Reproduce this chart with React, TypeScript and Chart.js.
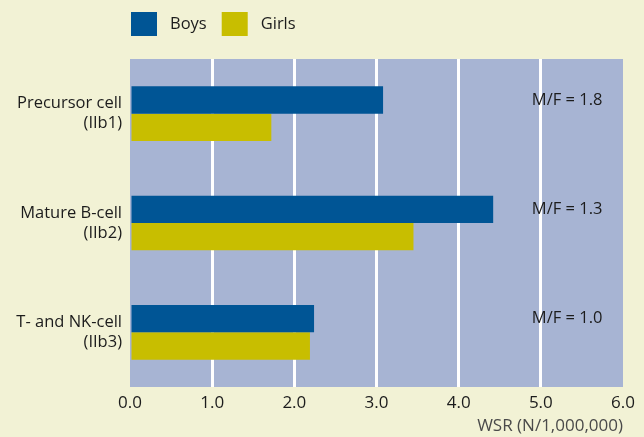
import { useEffect, useRef } from "react";
import { Chart, registerables } from "chart.js";

Chart.register(...registerables);

const categories: string[][] = [
  ["Precursor cell", "(IIb1)"],
  ["Mature B-cell", "(IIb2)"],
  ["T- and NK-cell", "(IIb3)"],
];
const seriesNames = ["Boys", "Girls"];
const boys = [3.08, 4.42, 2.24];
const girls = [1.72, 3.45, 2.19];
const mfRatios = ["M/F = 1.8", "M/F = 1.3", "M/F = 1.0"];
const xMin = 0;
const xMax = 6;
const xStep = 1;
const xTitle = "WSR (N/1,000,000)";

const PAGE_BG = "#f2f2d5";
const PLOT_BG = "#a7b4d3";
const BOYS_COLOR = "#005595";
const GIRLS_COLOR = "#c8be00";
const TEXT = "#1c1c1c";
const FONT = "'Open Sans', sans-serif";

const backgroundPlugin = {
  id: "bgPlugin",
  beforeDraw(chart: any) {
    const { ctx, chartArea, width, height } = chart;
    ctx.save();
    ctx.fillStyle = PAGE_BG;
    ctx.fillRect(0, 0, width, height);
    ctx.fillStyle = PLOT_BG;
    ctx.fillRect(chartArea.left, chartArea.top, chartArea.right - chartArea.left, chartArea.bottom - chartArea.top);
    ctx.restore();
  },
};

const legendPlugin = {
  id: "customLegend",
  afterDraw(chart: any) {
    const { ctx, chartArea } = chart;
    ctx.save();
    ctx.font = `16.5px ${FONT}`;
    ctx.textBaseline = "middle";
    ctx.textAlign = "left";
    let x = chartArea.left + 1;
    const boxW = 26;
    const boxH = 24;
    const top = 12;
    chart.data.datasets.forEach((ds: any) => {
      ctx.fillStyle = ds.backgroundColor;
      ctx.fillRect(x, top, boxW, boxH);
      ctx.fillStyle = TEXT;
      const tx = x + boxW + 13;
      ctx.fillText(ds.label, tx, top + boxH / 2);
      x = tx + ctx.measureText(ds.label).width + 15;
    });
    ctx.restore();
  },
};

const ratioPlugin = {
  id: "ratioLabels",
  afterDatasetsDraw(chart: any) {
    const { ctx } = chart;
    const xScale = chart.scales.x;
    const meta = chart.getDatasetMeta(0);
    ctx.save();
    ctx.font = `16.5px ${FONT}`;
    ctx.fillStyle = TEXT;
    ctx.textAlign = "right";
    ctx.textBaseline = "middle";
    const xr = xScale.getPixelForValue(5.75);
    mfRatios.forEach((t, i) => {
      const bar = meta.data[i];
      if (bar) ctx.fillText(t, xr, bar.y);
    });
    ctx.restore();
  },
};

export default function App() {
  const ref = useRef<HTMLCanvasElement | null>(null);
  useEffect(() => {
    if (!ref.current) return;
    const chart = new Chart(ref.current, {
      type: "bar",
      data: {
        labels: categories,
        datasets: [
          { label: seriesNames[0], data: boys, backgroundColor: BOYS_COLOR, borderWidth: 0, categoryPercentage: 0.5, barPercentage: 1 },
          { label: seriesNames[1], data: girls, backgroundColor: GIRLS_COLOR, borderWidth: 0, categoryPercentage: 0.5, barPercentage: 1 },
        ],
      },
      options: {
        indexAxis: "y",
        responsive: false,
        animation: false,
        layout: { padding: { top: 59, right: 21, left: 0, bottom: 0 } },
        plugins: {
          legend: { display: false },
          tooltip: { enabled: false },
        },
        scales: {
          x: {
            type: "linear",
            min: xMin,
            max: xMax,
            afterFit: (s: any) => { s.height = 50; },
            grid: {
              drawTicks: false,
              lineWidth: 3,
              color: (c: any) => (c.tick && c.tick.value > xMin && c.tick.value < xMax ? "#ffffff" : "rgba(0,0,0,0)"),
            },
            border: { display: false },
            ticks: {
              stepSize: xStep,
              padding: 6,
              color: TEXT,
              font: { family: FONT, size: 17 },
              callback: (v: any) => Number(v).toFixed(1),
            },
            title: {
              display: true,
              text: xTitle,
              align: "end",
              color: "#4a4a4a",
              font: { family: FONT, size: 17 },
              padding: { top: 0, bottom: 1 },
            },
          },
          y: {
            afterFit: (s: any) => { s.width = 130; },
            grid: { display: false, drawTicks: false },
            border: { display: false },
            ticks: {
              padding: 8,
              color: TEXT,
              font: { family: FONT, size: 16.5, lineHeight: 1.22 },
            },
          },
        },
      },
      plugins: [backgroundPlugin, legendPlugin, ratioPlugin],
    } as any);
    return () => chart.destroy();
  }, []);
  return (
    <div style={{ position: "fixed", left: 0, top: 0, width: 644, height: 437 }}>
      <canvas ref={ref} width={644} height={437} />
    </div>
  );
}
